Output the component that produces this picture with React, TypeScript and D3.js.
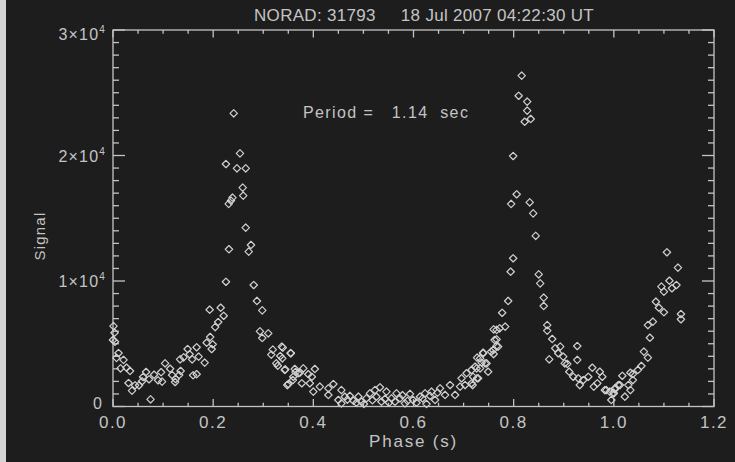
import React from "react";
import * as d3 from "d3";

// [phase (s), signal]
const leftWing: [number, number][] = [
  [0.001, 6410], [0.003, 5880], [0.004, 5160], [0.0, 5300], [0.007, 3870], [0.011, 4260],
  [0.021, 3710], [0.015, 3040], [0.027, 3090], [0.034, 2830], [0.031, 1870], [0.038, 1260],
  [0.044, 1690], [0.052, 1690], [0.058, 2010], [0.06, 2350], [0.066, 2750], [0.072, 2170],
  [0.075, 570], [0.082, 2530], [0.09, 2090], [0.096, 2730], [0.098, 1980], [0.104, 3440],
  [0.114, 3010], [0.118, 2510], [0.124, 1950], [0.125, 2190], [0.132, 2510], [0.135, 2830],
  [0.134, 3760], [0.141, 3920], [0.149, 4580], [0.153, 4160], [0.158, 3760], [0.16, 2490],
  [0.167, 2570], [0.167, 4720], [0.171, 3970], [0.183, 3490],
];

const firstPeak: [number, number][] = [
  [0.187, 5080], [0.194, 5540], [0.199, 4960], [0.197, 4580], [0.193, 7710], [0.204, 6330],
  [0.21, 6730], [0.215, 7870], [0.221, 7230], [0.2255, 9940], [0.2315, 12530], [0.2255, 19320],
  [0.231, 16140], [0.2385, 16640], [0.2355, 16400], [0.241, 23360], [0.2475, 18980],
  [0.2535, 20170], [0.265, 18980], [0.259, 17440], [0.26, 16800], [0.265, 14250],
  [0.2755, 12870], [0.271, 12340], [0.281, 9680], [0.2874, 8410], [0.298, 7660], [0.2934, 5990],
  [0.31, 5830], [0.298, 5460], [0.316, 4130], [0.319, 4530], [0.326, 3440], [0.329, 3250],
  [0.334, 4020], [0.337, 4770], [0.343, 2910], [0.35, 1790], [0.3547, 4260], [0.359, 2110],
  [0.3647, 2750], [0.373, 2690],
];

const trough: [number, number][] = [
  [0.339, 4690], [0.355, 4240], [0.338, 3840], [0.344, 2960], [0.363, 2990], [0.38, 3040],
  [0.403, 2990], [0.36, 2370], [0.37, 2650], [0.39, 2570], [0.397, 2370], [0.348, 1710],
  [0.377, 1850], [0.393, 1850], [0.4, 1180], [0.413, 1580], [0.43, 1450], [0.44, 1790],
  [0.43, 920], [0.456, 1310], [0.45, 520], [0.463, 780], [0.473, 840], [0.456, 250],
  [0.48, 460], [0.49, 780], [0.496, 380], [0.506, 650], [0.513, 1050], [0.523, 1310],
  [0.533, 1530], [0.526, 780], [0.536, 380], [0.546, 1180], [0.556, 650], [0.566, 1050],
  [0.563, 380], [0.573, 650], [0.583, 250], [0.593, 1000], [0.599, 520], [0.613, 780],
  [0.623, 1050], [0.626, 200], [0.636, 1180], [0.643, 520], [0.653, 1450], [0.663, 920],
  [0.673, 1710], [0.683, 920], [0.693, 1580], [0.703, 1710], [0.696, 2250], [0.706, 2650],
  [0.716, 1850], [0.719, 2370], [0.726, 3040], [0.729, 2250], [0.733, 3840], [0.739, 4240],
  [0.743, 3440], [0.749, 2770], [0.468, 550], [0.486, 300], [0.501, 200], [0.518, 500],
  [0.543, 600], [0.551, 300], [0.578, 900], [0.588, 450], [0.606, 300], [0.618, 650],
  [0.633, 850], [0.648, 1100],
];

const secondPeak: [number, number][] = [
  [0.759, 4500], [0.766, 6100], [0.762, 5300], [0.769, 4770], [0.76, 6150], [0.772, 6230],
  [0.783, 6360], [0.777, 7470], [0.789, 8410], [0.794, 10740], [0.799, 11810], [0.799, 19960],
  [0.795, 16140], [0.806, 16910], [0.81, 24760], [0.816, 26360], [0.827, 24290], [0.827, 23570],
  [0.822, 22690], [0.834, 22910], [0.832, 16270], [0.839, 15390], [0.844, 13600], [0.85, 10530],
  [0.853, 9810], [0.86, 8670], [0.86, 8010], [0.867, 6490], [0.867, 6040], [0.877, 5380],
  [0.883, 4640], [0.893, 4770], [0.927, 4820], [0.755, 4370], [0.76, 4180], [0.739, 4290],
  [0.727, 3890], [0.889, 4240], [0.871, 3760], [0.899, 3970], [0.902, 3440], [0.927, 3710],
  [0.907, 3390], [0.736, 3490], [0.746, 3440], [0.723, 3170], [0.733, 3040], [0.716, 2910],
  [0.727, 2250], [0.718, 1710], [0.766, 5350], [0.766, 4820],
];

const rightHump: [number, number][] = [
  [0.911, 2770], [0.919, 2370], [0.929, 2250], [0.939, 2110], [0.932, 1710], [0.949, 2370],
  [0.957, 3090], [0.972, 2770], [0.977, 2370], [0.967, 1850], [0.96, 1580], [0.982, 1310],
  [0.992, 1180], [1.002, 1450], [1.0, 1050], [0.995, 520], [1.009, 1710], [1.106, 12290],
  [1.128, 11060], [1.111, 10020], [1.125, 9680], [1.095, 9550], [1.116, 9420], [1.1, 9150],
  [1.084, 8350], [1.09, 7870], [1.1, 7510], [1.134, 7370], [1.134, 6950], [1.078, 6760],
  [1.068, 6490], [1.072, 5480], [1.06, 4370], [1.068, 3890], [1.055, 3230], [1.048, 2910],
  [1.038, 2590], [1.033, 2690], [1.038, 2110], [1.017, 2450], [1.029, 1710], [1.033, 1310],
  [1.012, 1710], [1.002, 1370], [0.999, 1100], [1.022, 780], [0.985, 1310],
];

const xMajor = [0, 0.2, 0.4, 0.6, 0.8, 1.0, 1.2];
const yMajor = [0, 10000, 20000, 30000];
const yLabels = ["0", "1", "2", "3"];

const W = 735;
const H = 462;
const fg = "#c4c4c4";
const font = "'Liberation Sans', Arial, sans-serif";

export default function App() {
  const x = d3.scaleLinear().domain([0, 1.2]).range([113, 714]);
  const y = d3.scaleLinear().domain([0, 30000]).range([406.5, 30]);
  const [x0, x1] = x.range();
  const [y0, y1] = y.range();

  const xMinor = d3.range(0, 1.2001, 0.05);
  const yMinor = d3.range(0, 30001, 1000);
  const pts = [...leftWing, ...firstPeak, ...trough, ...secondPeak, ...rightHump];
  const r = 3.7;
  const diamond = (cx: number, cy: number) =>
    `M${cx},${cy - r}L${cx + r},${cy}L${cx},${cy + r}L${cx - r},${cy}Z`;

  // IDL-ish tick lengths: x ticks scale with plot height, y ticks with width
  const xt = (d: number) => (xMajor.some((m) => Math.abs(m - d) < 1e-6) ? 7.5 : 3.8);
  const yt = (d: number) => (d % 10000 === 0 ? 12 : 6);

  return (
    <svg width={W} height={H} style={{ position: "absolute", left: 0, top: 0 }}>
      <rect width={W} height={H} fill="#1d1d1d" />
      <rect width={6} height={H} fill="#d4d4d4" />
      <g fontFamily={font} fill={fg}>
        <text x={424} y={21} fontSize={17} letterSpacing={0.3} textAnchor="middle" style={{ whiteSpace: "pre" }}>
          {"NORAD: 31793     18 Jul 2007 04:22:30 UT"}
        </text>
        <text x={303} y={118} fontSize={16} letterSpacing={1.4} style={{ whiteSpace: "pre" }}>
          {"Period =   1.14  sec"}
        </text>
        <text x={(x0 + x1) / 2} y={447} fontSize={17} letterSpacing={1.8} textAnchor="middle">Phase (s)</text>
        <text transform="translate(45,236) rotate(-90)" fontSize={15} letterSpacing={1.2} textAnchor="middle">Signal</text>
        {xMajor.map((d) => (
          <text key={d} x={x(d)} y={428} fontSize={17} letterSpacing={1.5} textAnchor="middle">
            {d.toFixed(1)}
          </text>
        ))}
        {yMajor.map((d, i) => (
          <text key={d} x={d === 0 ? 103 : 106} y={y(d) + (d === 30000 ? 10 : d === 0 ? 2 : 6)} fontSize={16} letterSpacing={1.2} textAnchor="end">
            {d === 0 ? "0" : (
              <>
                <tspan>{yLabels[i] + "\u00d710"}</tspan>
                <tspan dy={-7} fontSize={10}>4</tspan>
              </>
            )}
          </text>
        ))}
      </g>
      <g stroke={fg} strokeWidth={1.3} fill="none">
        <rect x={x0} y={y1} width={x1 - x0} height={y0 - y1} />
        {xMinor.map((d) => (
          <g key={"x" + d}>
            <line x1={x(d)} x2={x(d)} y1={y0} y2={y0 - xt(d)} />
            <line x1={x(d)} x2={x(d)} y1={y1} y2={y1 + xt(d)} />
          </g>
        ))}
        {yMinor.map((d) => (
          <g key={"y" + d}>
            <line x1={x0} x2={x0 + yt(d)} y1={y(d)} y2={y(d)} />
            <line x1={x1} x2={x1 - yt(d)} y1={y(d)} y2={y(d)} />
          </g>
        ))}
      </g>
      <g stroke="#d0d0d0" strokeWidth={1.2} fill="none" strokeLinejoin="round">
        {pts.map(([p, s], i) => (
          <path key={i} d={diamond(x(p), y(s))} />
        ))}
      </g>
    </svg>
  );
}
